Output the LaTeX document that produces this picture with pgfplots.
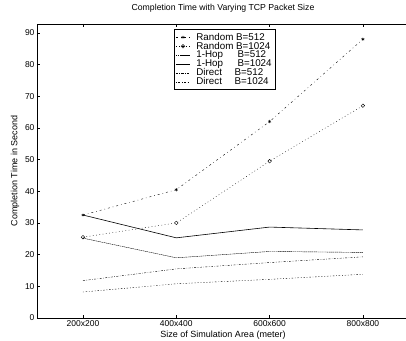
\documentclass[border=0pt]{standalone}
\usepackage{fontspec}
\setmainfont{Liberation Sans}
\usepackage{pgfplots}
\pgfplotsset{compat=1.18}
\begin{document}
\begin{tikzpicture}
\begin{axis}[
  name=main,
  scale only axis,
  width=372pt, height=294pt,
  xmin=0.507, xmax=4.494,
  ymin=0, ymax=92.8,
  xtick={1,2,3,4},
  xticklabels={200x200,400x400,600x600,800x800},
  ytick={0,10,...,90},
  tick align=inside,
  major tick length=3pt,
  tick style={black, thin},
  axis line style={black, thin},
  tick label style={font=\fontsize{8.5}{9}\selectfont},
  yticklabel style={xshift=1pt},
  xticklabel style={yshift=1pt},
  /pgf/number format/assume math mode=true,
  title={Completion Time with Varying TCP Packet Size},
  title style={font=\fontsize{8.7}{9}\selectfont, at={(0.5,1)}, anchor=center, yshift=9.5pt},
  xlabel={Size of Simulation Area (meter)},
  ylabel={Completion Time in Second},
  label style={font=\fontsize{9}{10}\selectfont},
  xlabel style={at={(axis description cs:0.5,0)}, anchor=center, yshift=-17pt},
  ylabel style={at={(axis description cs:-0.059,0.5)}, anchor=center},
  legend style={at={(0.368,0.982)}, anchor=north west, draw=black, thin,
    font=\fontsize{9.8}{10}\selectfont, row sep=-3.6pt, inner sep=1.5pt,
    cells={anchor=west},
    /tikz/every odd column/.append style={column sep=4pt}},
  legend cell align=left,
  legend image code/.code={\draw[mark repeat=2,mark phase=2,#1] plot coordinates {(0cm,0cm) (0.25cm,0cm) (0.5cm,0cm)};},
]
\addplot[black, thin, dash pattern=on 2pt off 3pt on 0.6pt off 3pt, mark=asterisk, mark size=1.6pt, mark options={solid}]
  coordinates {(1,32.5) (2,40.5) (3,62) (4,88)};
\addlegendentry{Random B=512}
\addplot[black, thin, dash pattern=on 0.8pt off 2.5pt, mark=o, mark size=1.8pt, mark options={solid}]
  coordinates {(1,25.5) (2,30) (3,49.5) (4,67)};
\addlegendentry{Random B=1024}
\addplot[black, thin, dash pattern=on 1.5pt off 0.6pt]
  coordinates {(1,25.2) (2,19) (3,21) (4,20.7)};
\addlegendentry{\makebox[4.2em][l]{1-Hop}B=512}
\addplot[black, semithick]
  coordinates {(1,32.5) (2,25.3) (3,28.7) (4,27.8)};
\addlegendentry{\makebox[4.2em][l]{1-Hop}B=1024}
\addplot[black, thin, dash pattern=on 2pt off 1.5pt on 0.6pt off 1.5pt]
  coordinates {(1,11.8) (2,15.5) (3,17.5) (4,19.3)};
\addlegendentry{\makebox[3.9em][l]{Direct}B=512}
\addplot[black, thin, dash pattern=on 0.8pt off 1.8pt on 1.5pt off 1.8pt]
  coordinates {(1,8.2) (2,10.8) (3,12.2) (4,13.8)};
\addlegendentry{\makebox[3.9em][l]{Direct}B=1024}
\end{axis}
\pgfresetboundingbox
\path[use as bounding box] ([xshift=-37pt,yshift=-23pt]main.south west) rectangle ([xshift=369pt,yshift=24pt]main.north west);
\end{tikzpicture}
\end{document}
